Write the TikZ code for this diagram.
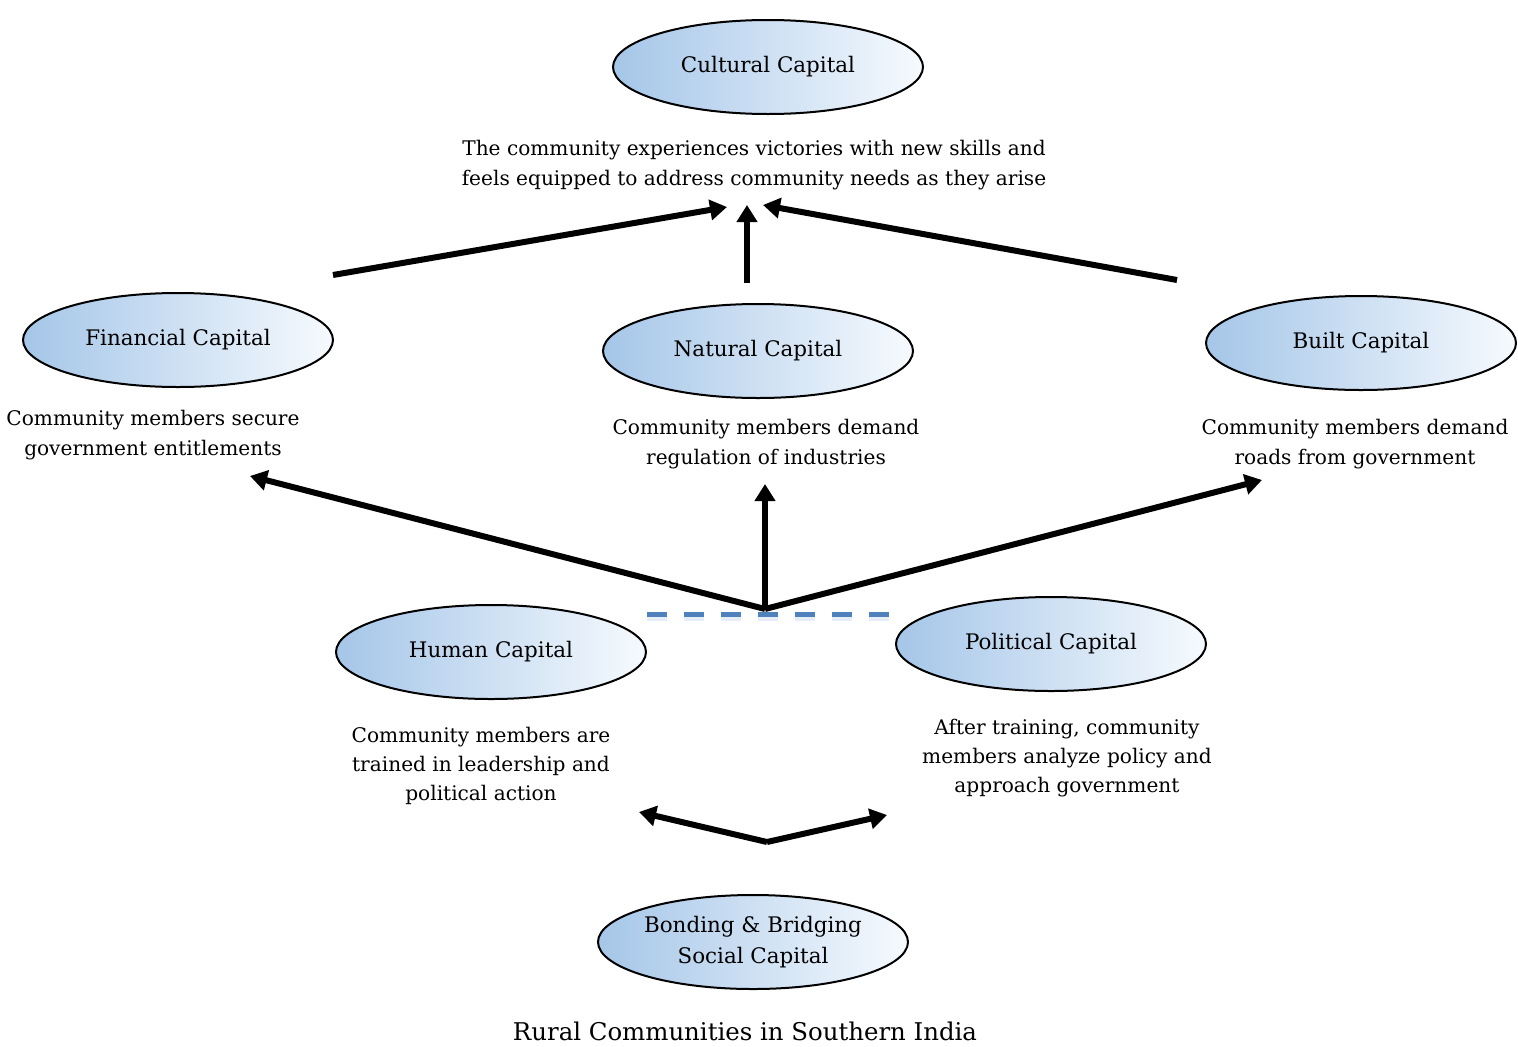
\documentclass[tikz,border=0pt]{standalone}
\usepackage{fontspec}
\setmainfont{DejaVu Serif}
\usetikzlibrary{shapes.geometric,arrows.meta}
\definecolor{capblue}{RGB}{165,198,232}
\definecolor{capwhite}{RGB}{246,250,254}
\definecolor{dashblue}{RGB}{79,129,189}
\tikzset{
  capital/.style={ellipse, draw=black, line width=2bp,
    left color=capblue, right color=capwhite,
    minimum width=310bp, minimum height=94bp, inner sep=0pt,
    align=center, font=\fontsize{21.5}{31}\selectfont},
  caption/.style={align=center, inner sep=0pt, font=\fontsize{20.2}{29.5}\selectfont},
  flow/.style={line width=6bp, -{Triangle[length=17bp,width=20bp]}},
  linkdash/.style={line width=5bp, dash pattern=on 20bp off 17bp},
}
\begin{document}
\begin{tikzpicture}[x=1bp,y=-1bp]
\useasboundingbox (0,0) rectangle (1518,1046);
\fill[white] (0,0) rectangle (1518,1046);

% capital ellipses
\node[capital] (cult) at (768,67) {Cultural Capital};
\node[capital] (fin)  at (178,340) {Financial Capital};
\node[capital] (nat)  at (758,351) {Natural Capital};
\node[capital] (built) at (1361,343) {Built Capital};
\node[capital] (hum)  at (491,652) {Human Capital};
\node[capital] (pol)  at (1051,644) {Political Capital};
\node[capital] (soc)  at (753,942) {Bonding \& Bridging\\Social Capital};

% outcome texts
\node[caption] (culttxt) at (754,165) {The community experiences victories with new skills and\\feels equipped to address community needs as they arise};
\node[caption] (fintxt) at (153,435) {Community members secure\\government entitlements};
\node[caption] (nattxt) at (766,444) {Community members demand\\regulation of industries};
\node[caption] (builttxt) at (1355,444) {Community members demand\\roads from government};
\node[caption] (humtxt) at (481,766) {Community members are\\trained in leadership and\\political action};
\node[caption] (poltxt) at (1067,758) {After training, community\\members analyze policy and\\approach government};
\node[font=\fontsize{24.5}{30}\selectfont, inner sep=0pt] (title) at (745,1031) {Rural Communities in Southern India};

% arrow end points
\coordinate (cA) at (727,207);
\coordinate (cB) at (747,205);
\coordinate (cC) at (763,205);
\coordinate (fS) at (333,275);
\coordinate (nS) at (747,283);
\coordinate (bS) at (1177,280);
\coordinate (hub) at (765,609);
\coordinate (fT) at (250,476);
\coordinate (nT) at (765,484);
\coordinate (bT) at (1262,480);
\coordinate (sHub) at (767,842);
\coordinate (hT) at (639,812);
\coordinate (pT) at (887,815);
\coordinate (dL) at (647,614);
\coordinate (dR) at (892,614);

% dashed link between human and political capital, with a soft shadow
\draw[linkdash, dashblue!14, line width=8bp, transform canvas={yshift=-3bp}] (dL) -- (dR);
\draw[linkdash, dashblue] (dL) -- (dR);

% flows into cultural capital
\draw[flow] (fS) -- (cA);
\draw[flow] (nS) -- (cB);
\draw[flow] (bS) -- (cC);

% flows out of the human/political link
\draw[flow] (hub) -- (fT);
\draw[flow] (hub) -- (nT);
\draw[flow] (hub) -- (bT);

% flows out of social capital
\draw[flow] (sHub) -- (hT);
\draw[flow] (sHub) -- (pT);
\end{tikzpicture}
\end{document}
